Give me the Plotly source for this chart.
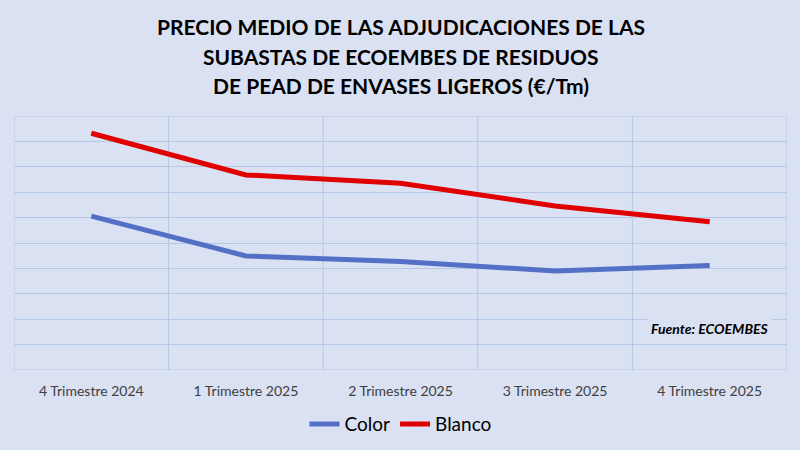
import plotly.graph_objects as go

# Datos (escala estimada, el original no muestra eje Y)
trimestres = ["4 Trimestre 2024", "1 Trimestre 2025", "2 Trimestre 2025",
              "3 Trimestre 2025", "4 Trimestre 2025"]
color = [606, 449, 427, 390, 411]
blanco = [932, 768, 735, 646, 584]
titulo = ["PRECIO MEDIO DE LAS ADJUDICACIONES DE LAS",
          "SUBASTAS DE ECOEMBES DE RESIDUOS",
          "DE PEAD DE ENVASES LIGEROS (€/Tm)"]

fondo = "#dae1f3"
rejilla = "#b4c7e7"

fig = go.Figure()
fig.add_trace(go.Scatter(x=trimestres, y=color, name="Color", mode="lines",
                         line=dict(color="#5470c6", width=5)))
fig.add_trace(go.Scatter(x=trimestres, y=blanco, name="Blanco", mode="lines",
                         line=dict(color="#e00000", width=5)))

fig.update_layout(
    width=800, height=450,
    paper_bgcolor=fondo, plot_bgcolor=fondo,
    margin=dict(l=14, r=13, t=116, b=80, autoexpand=False),
    font=dict(family="Lato", color="#404040"),
    showlegend=True,
    legend=dict(orientation="h", x=0.5, xanchor="center", y=-0.213, yanchor="middle",
                font=dict(size=19, color="#000000"), itemwidth=30),
)

# titulo en tres lineas (interlineado del original)
for i, linea in enumerate(titulo):
    fig.add_annotation(text="<b>" + linea + "</b>", xref="paper", yref="paper",
                       x=0.5, y=1.352 - i * 0.116, xanchor="center", yanchor="middle",
                       showarrow=False, font=dict(family="Lato", size=21, color="#000000"))

fig.update_xaxes(showgrid=False, ticks="", tickfont=dict(size=14, color="#404040"),
                 range=[-0.5, 4.5], showline=False, zeroline=False,
                 ticklabelstandoff=11, automargin=False)
fig.update_yaxes(range=[0, 1000], dtick=100, showticklabels=False,
                 gridcolor=rejilla, gridwidth=1, zeroline=False, showline=False,
                 automargin=False)

# rejilla vertical entre categorias
for k in range(6):
    fig.add_shape(type="line", xref="x", yref="paper", x0=k - 0.5, x1=k - 0.5,
                  y0=0, y1=1, line=dict(color=rejilla, width=1), layer="below")
fig.add_shape(type="line", xref="paper", yref="y", x0=0, x1=1, y0=1000, y1=1000,
              line=dict(color=rejilla, width=1), layer="below")
fig.add_shape(type="line", xref="paper", yref="y", x0=0, x1=1, y0=0, y1=0,
              line=dict(color=rejilla, width=1), layer="below")

fig.add_annotation(text="<b><i>Fuente: ECOEMBES</i></b>", xref="paper", yref="paper",
                   x=0.981, y=0.165, xanchor="right", yanchor="middle", showarrow=False,
                   bgcolor=fondo, font=dict(size=14, color="#000000"),
                   borderpad=3)

fig.write_html("out.html", config={"displayModeBar": False},
               post_script="document.body.style.margin='0';")
